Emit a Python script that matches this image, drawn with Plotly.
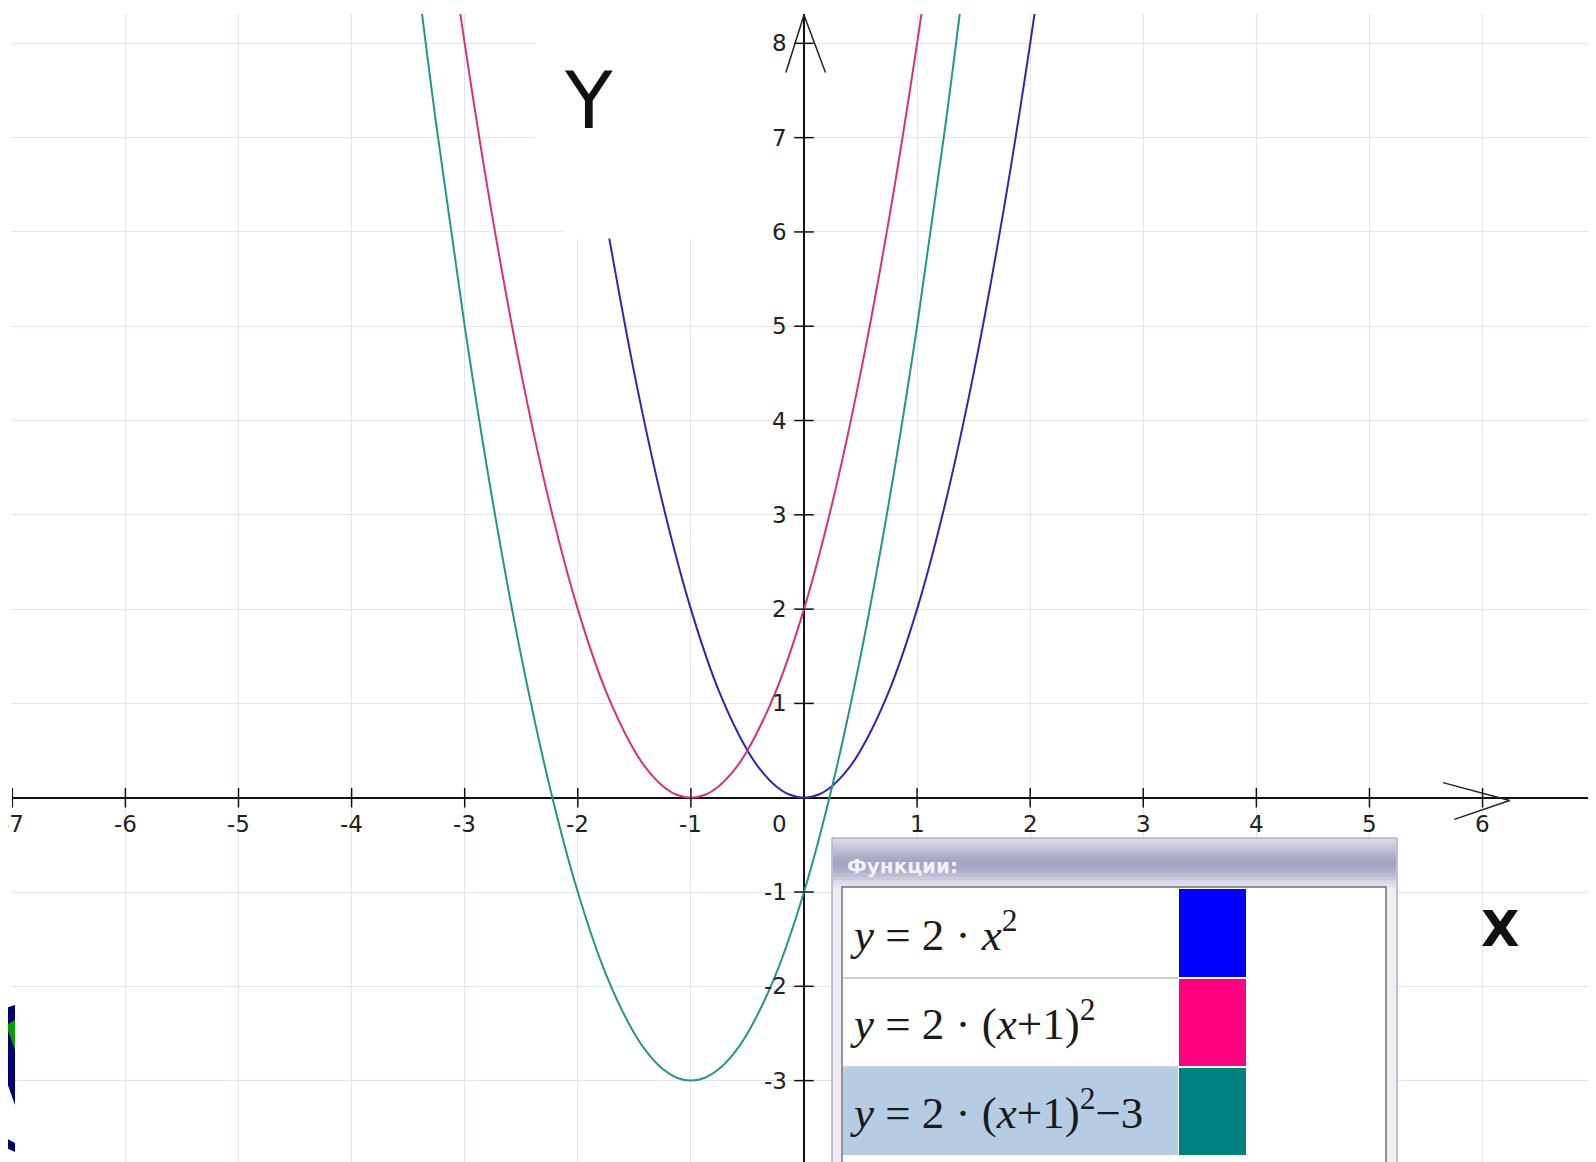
import plotly.graph_objects as go

x_blue = [-1.75, -1.5, -1.25, -1.0, -0.75, -0.5, -0.375, -0.25, -0.125, 0.0, 0.125, 0.25, 0.375, 0.5, 0.75, 1.0, 1.25, 1.5, 1.75, 2.0, 2.25]
y_blue = [6.125, 4.5, 3.125, 2.0, 1.125, 0.5, 0.281, 0.125, 0.031, 0.0, 0.031, 0.125, 0.281, 0.5, 1.125, 2.0, 3.125, 4.5, 6.125, 8.0, 10.125]

x_pink = [-3.25, -3.0, -2.75, -2.5, -2.25, -2.0, -1.75, -1.5, -1.375, -1.25, -1.125, -1.0, -0.875, -0.75, -0.625, -0.5, -0.25, 0.0, 0.25, 0.5, 0.75, 1.0, 1.25]
y_pink = [10.125, 8.0, 6.125, 4.5, 3.125, 2.0, 1.125, 0.5, 0.281, 0.125, 0.031, 0.0, 0.031, 0.125, 0.281, 0.5, 1.125, 2.0, 3.125, 4.5, 6.125, 8.0, 10.125]

x_teal = [-3.5, -3.25, -3.0, -2.75, -2.5, -2.25, -2.0, -1.75, -1.5, -1.375, -1.25, -1.125, -1.0, -0.875, -0.75, -0.625, -0.5, -0.25, 0.0, 0.25, 0.5, 0.75, 1.0, 1.25, 1.5]
y_teal = [9.5, 7.125, 5.0, 3.125, 1.5, 0.125, -1.0, -1.875, -2.5, -2.719, -2.875, -2.969, -3.0, -2.969, -2.875, -2.719, -2.5, -1.875, -1.0, 0.125, 1.5, 3.125, 5.0, 7.125, 9.5]

x_ticks = [-7, -6, -5, -4, -3, -2, -1, 1, 2, 3, 4, 5, 6, 7]
y_ticks = [-3, -2, -1, 1, 2, 3, 4, 5, 6, 7, 8]

legend_labels = [
    "<i>y</i> = 2 · <i>x</i><sup>2</sup>",
    "<i>y</i> = 2 · (<i>x</i>+1)<sup>2</sup>",
    "<i>y</i> = 2 · (<i>x</i>+1)<sup>2</sup>−3",
]
legend_colors = ["#0000ff", "#ff0080", "#008080"]

# page is drawn 8px in from the top-left (body margin); plot area starts at page (12, 14)
W, H = 1588, 1154
PX0, PY0, PW, PH = 12, 14, 1584, 1148


def px(x):
    return (x - PX0) / PW


def py(y):
    return 1 - (y - PY0) / PH


fig = go.Figure()

for xs, ys, col in [(x_blue, y_blue, "#2a2aa8"), (x_pink, y_pink, "#d8307c"), (x_teal, y_teal, "#25958a")]:
    fig.add_trace(go.Scatter(x=xs, y=ys, mode="lines", line=dict(color=col, width=2, shape="spline", smoothing=1.0),
                             hoverinfo="skip", showlegend=False))

# tick marks on the axes
fig.add_trace(go.Scatter(x=x_ticks, y=[0] * len(x_ticks), mode="markers",
                         marker=dict(symbol="line-ns", size=14, line=dict(color="#111", width=1.5)),
                         hoverinfo="skip", showlegend=False))
fig.add_trace(go.Scatter(x=[0] * len(y_ticks), y=y_ticks, mode="markers",
                         marker=dict(symbol="line-ew", size=14, line=dict(color="#111", width=1.5)),
                         hoverinfo="skip", showlegend=False))

tick_font = dict(family="DejaVu Sans", size=23, color="#222")
annotations = []
for t in x_ticks:
    annotations.append(dict(x=t, y=0, text=str(t), showarrow=False, yshift=-26, font=tick_font))
annotations.append(dict(x=0, y=0, text="0", showarrow=False, yshift=-26, xshift=-24, font=tick_font))
for t in y_ticks:
    annotations.append(dict(x=0, y=t, text=str(t), showarrow=False, xanchor="right", xshift=-15, font=tick_font))

# axis letters
annotations.append(dict(x=px(588), y=py(101), xref="paper", yref="paper", text="Y", showarrow=False,
                        xanchor="center", yanchor="middle",
                        font=dict(family="DejaVu Sans", size=78, color="#111")))
annotations.append(dict(x=px(1500), y=py(929), xref="paper", yref="paper", text="<b>X</b>", showarrow=False,
                        xanchor="center", yanchor="middle",
                        font=dict(family="DejaVu Sans", size=50, color="#111")))

shapes = []
# white patch hiding the grid near the Y letter
shapes.append(dict(type="rect", xref="x", yref="y", x0=-2.38, x1=-0.1, y0=6.05, y1=8.6,
                   fillcolor="white", line=dict(width=0), layer="above"))
shapes.append(dict(type="rect", xref="x", yref="y", x0=-2.13, x1=-0.1, y0=5.93, y1=6.06,
                   fillcolor="white", line=dict(width=0), layer="above"))

# axis arrow heads
arrow_col = "#222"
for (a, b, c, d) in [(5.65, 0.16, 6.24, -0.03), (5.75, -0.23, 6.24, -0.03),
                     (-0.16, 7.69, 0.0, 8.30), (0.19, 7.69, 0.0, 8.30)]:
    shapes.append(dict(type="line", xref="x", yref="y", x0=a, y0=b, x1=c, y1=d,
                       line=dict(color=arrow_col, width=1.5)))

# functions panel
shapes.append(dict(type="rect", xref="paper", yref="paper", x0=px(832), x1=px(1397), y0=py(1163), y1=py(838),
                   fillcolor="#eeeef4", line=dict(color="#8c8ca4", width=1)))
bar = ["#d8d8e6", "#d0d0e0", "#c6c6da", "#bcbcd4", "#b2b2ce", "#aaaac8", "#a6a6c4", "#a4a4c4",
       "#a8a8c6", "#b0b0cc", "#bcbcd4", "#cacadc", "#d8d8e6", "#e2e2ec"]
step = 48 / len(bar)
for i, c in enumerate(bar):
    y0 = 839 + i * step
    shapes.append(dict(type="rect", xref="paper", yref="paper", x0=px(833), x1=px(1396),
                       y0=py(y0 + step + 0.5), y1=py(y0), fillcolor=c, line=dict(width=0)))
shapes.append(dict(type="rect", xref="paper", yref="paper", x0=px(842), x1=px(1386), y0=py(1163), y1=py(887),
                   fillcolor="white", line=dict(color="#707070", width=1.5)))
shapes.append(dict(type="rect", xref="paper", yref="paper", x0=px(843), x1=px(1178), y0=py(1155), y1=py(1068),
                   fillcolor="#b4cde4", line=dict(width=0)))
rows = [(889, 977), (979, 1066), (1068, 1155)]
for (r0, r1), c in zip(rows, legend_colors):
    shapes.append(dict(type="rect", xref="paper", yref="paper", x0=px(1179), x1=px(1246), y0=py(r1), y1=py(r0),
                       fillcolor=c, line=dict(width=0)))
for yline in [978, 1067]:
    shapes.append(dict(type="line", xref="paper", yref="paper", x0=px(843), x1=px(1178), y0=py(yline), y1=py(yline),
                       line=dict(color="#a0a0a0", width=1)))

annotations.append(dict(x=px(845), y=py(866), xref="paper", yref="paper", xanchor="left", yanchor="middle",
                        text="<b>Функции:</b>", showarrow=False,
                        font=dict(family="DejaVu Sans", size=20, color="#f2f2fa")))
for (r0, r1), lab in zip(rows, legend_labels):
    annotations.append(dict(x=px(848), y=py((r0 + r1) / 2 - 2), xref="paper", yref="paper",
                            xanchor="left", yanchor="middle", text=lab, showarrow=False,
                            font=dict(family="Liberation Serif", size=45, color="#1a1a1a")))

# logo fragment in the lower left corner
shapes.append(dict(type="path", xref="paper", yref="paper",
                   path=f"M {px(0)},{py(1010)} L {px(15)},{py(1005)} L {px(15)},{py(1105)} L {px(6)},{py(1080)} L {px(0)},{py(1075)} Z",
                   fillcolor="#000070", line=dict(width=0)))
shapes.append(dict(type="path", xref="paper", yref="paper",
                   path=f"M {px(6)},{py(1025)} L {px(15)},{py(1020)} L {px(15)},{py(1050)} Z",
                   fillcolor="#00a000", line=dict(width=0)))
shapes.append(dict(type="path", xref="paper", yref="paper",
                   path=f"M {px(0)},{py(1135)} L {px(15)},{py(1143)} L {px(15)},{py(1152)} L {px(0)},{py(1145)} Z",
                   fillcolor="#000070", line=dict(width=0)))

fig.update_layout(
    width=W, height=H,
    margin=dict(l=4, r=0, t=6, b=0),
    plot_bgcolor="white", paper_bgcolor="white",
    showlegend=False,
    shapes=shapes,
    annotations=annotations,
    xaxis=dict(range=[-7.0027, 7.003], dtick=1, showgrid=True, gridcolor="#e4e4f0", gridwidth=1,
               zeroline=True, zerolinecolor="#111", zerolinewidth=2, showticklabels=False, fixedrange=True),
    yaxis=dict(range=[-3.863, 8.311], dtick=1, showgrid=True, gridcolor="#e4e4f0", gridwidth=1,
               zeroline=True, zerolinecolor="#111", zerolinewidth=2, showticklabels=False, fixedrange=True),
)

fig.write_html("out.html", config={"displayModeBar": False})
